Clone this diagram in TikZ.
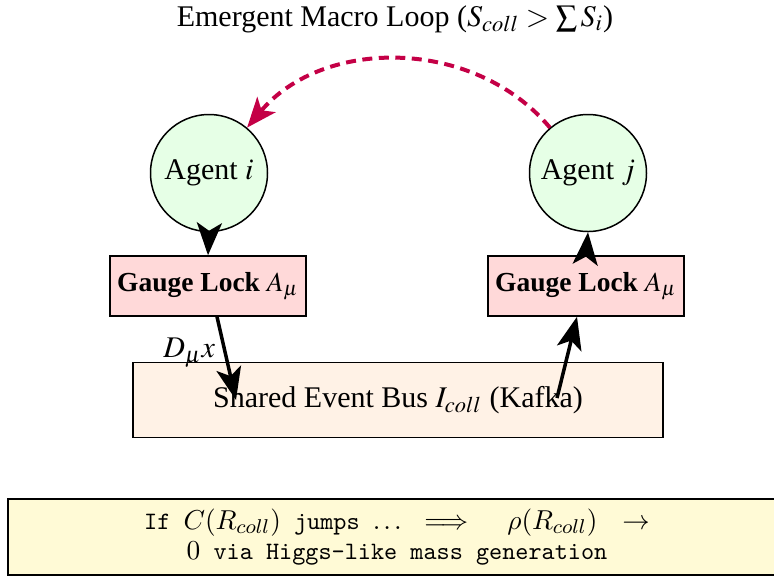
\documentclass[tikz,border=0pt]{standalone}
\usepackage{amsmath}
\usepackage{mathptmx}
\usepackage[no-math]{fontspec}
\setmainfont{Liberation Serif}
\DeclareMathVersion{cmver}
\SetSymbolFont{operators}{cmver}{OT1}{cmr}{m}{n}
\SetSymbolFont{letters}{cmver}{OML}{cmm}{m}{it}
\SetSymbolFont{symbols}{cmver}{OMS}{cmsy}{m}{n}
\SetSymbolFont{largesymbols}{cmver}{OMX}{cmex}{m}{n}
\usetikzlibrary{arrows.meta}
\definecolor{agentfill}{RGB}{230,255,230}
\definecolor{lockfill}{RGB}{255,217,217}
\definecolor{busfill}{RGB}{255,242,230}
\definecolor{notefill}{RGB}{255,250,214}
\definecolor{loopcol}{RGB}{196,0,70}
\newcommand\nmath[1]{{\fontsize{11}{12}\selectfont$#1$}}
\begin{document}
\begin{tikzpicture}[x=0.4pt,y=-0.4pt,
  font=\fontsize{12}{14.4}\selectfont,
  agentnode/.style={circle,draw=black,line width=0.6pt,fill=agentfill,minimum size=46.8pt,inner sep=0pt},
  locknode/.style={rectangle,draw=black,line width=0.6pt,fill=lockfill,minimum width=78.4pt,minimum height=24pt,inner sep=0pt,font=\fontsize{11}{13.5}\selectfont},
  busnode/.style={rectangle,draw=black,line width=0.6pt,fill=busfill,minimum width=212pt,minimum height=30pt,inner sep=0pt},
  notebox/.style={rectangle,draw=black,line width=0.6pt,fill=notefill,minimum width=311.2pt,minimum height=30.4pt,inner sep=0pt,align=center,font=\fontsize{10}{12}\selectfont\ttfamily\mathversion{cmver}},
  flowarrow/.style={line width=1.4pt,-{Stealth[length=13pt,width=10pt,inset=3.2pt]}},
  macroloop/.style={draw=loopcol,line width=1.6pt,dash pattern=on 4pt off 2.6pt,-{Stealth[length=12pt,width=9.5pt,inset=3pt]}}]
\useasboundingbox (0,0) rectangle (774,576);
\node (title) at (395,19) {Emergent Macro Loop ($S_{coll} > \sum S_i$)};
\node[agentnode] (ai) at (209,173) {Agent $i$};
\node[agentnode] (aj) at (588,173) {Agent $j$};
\node[locknode] (li) at (208,286) {\textbf{Gauge Lock} $A_\mu$};
\node[locknode] (lj) at (586,286) {\textbf{Gauge Lock} $A_\mu$};
\node[busnode] (bus) at (398,400) {Shared Event Bus $I_{coll}$ (Kafka)};
\node[notebox] (note) at (397,537) {If \nmath{C(R_{coll})} jumps \nmath{\ldots}\hspace{9pt}\nmath{\Longrightarrow}\hspace{15.6pt}\nmath{\rho(R_{coll})}\hspace{10pt}\nmath{\to}\\\nmath{0} via Higgs-like mass generation};
\draw[flowarrow] (ai.south) -- (li.north);
\draw[flowarrow] (lj.north) -- (aj.south);
\draw[flowarrow] ([xshift=3.6pt]li.south) -- node[pos=0.43,left] {$D_\mu x$} ([xshift=-64.8pt]bus.center);
\draw[flowarrow] ([xshift=63.6pt,yshift=0.8pt]bus.center) -- ([xshift=-3.6pt]lj.south);
\draw[macroloop] (aj) to[bend right=50] (ai);
\end{tikzpicture}
\end{document}
